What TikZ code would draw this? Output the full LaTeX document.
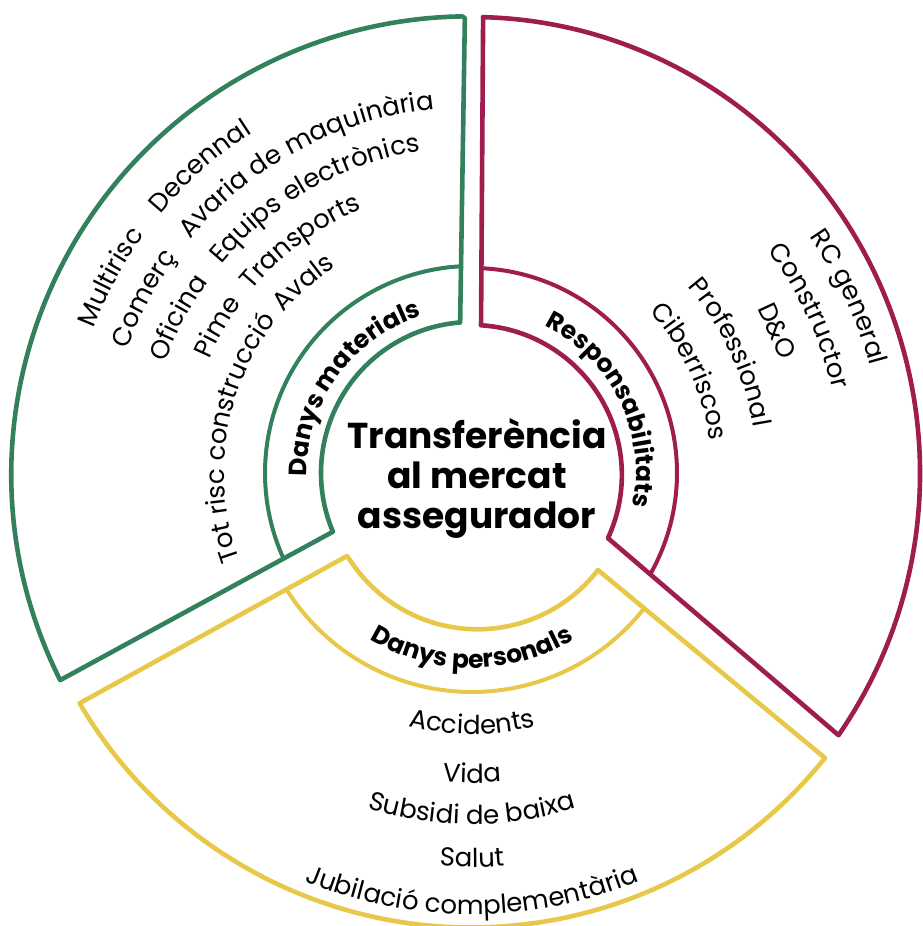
\documentclass[tikz,border=0pt]{standalone}
\usepackage{fontspec}
\setmainfont{Poppins}
\usetikzlibrary{decorations.text}

\definecolor{matgreen}{RGB}{50,128,92}
\definecolor{respred}{RGB}{158,28,78}
\definecolor{persyellow}{RGB}{232,200,72}
\newcommand{\itemfont}{\fontsize{26}{30}\selectfont}
\newcommand{\ringfont}{\fontsize{25}{30}\selectfont\bfseries}
\newcommand{\corefont}{\fontsize{36}{40}\selectfont\bfseries}

\begin{document}
\begin{tikzpicture}[x=1pt, y=1pt,
    sector/.style={line width=4.6pt, line join=round},
    band/.style={line width=4pt, line cap=round},
    itemleft/.style={decorate, decoration={text along path, text={|\itemfont|#1}, text align=left}},
    itemmid/.style={decorate, decoration={text along path, text={|\itemfont|#1}, text align=center}},
    ringtext/.style={decorate, decoration={text along path, text={|\ringfont|#1}, text align=center}}]

\useasboundingbox (-472,-453) rectangle (451,473);

% sectors
\draw[sector, matgreen] (90.9:455) -- (94.5:151) arc[start angle=94.5, end angle=202.9, radius=151pt]
  -- (206.7:461) arc[start angle=206.7, end angle=90.9, radius=458pt] -- cycle;
\draw[sector, respred] (88.6:456) -- (86.5:148) arc[start angle=86.5, end angle=-24.9, radius=150pt]
  -- (-35.1:448 and 456) arc[start angle=-35.1, end angle=88.6, x radius=448pt, y radius=456pt] -- cycle;
\draw[sector, persyellow] (213.6:150) -- (210.4:455) arc[start angle=210.4, end angle=321.2, radius=454pt]
  -- (322.4:159) arc[start angle=322.4, end angle=213.6, radius=152pt] -- cycle;

\draw[band, matgreen] (93.0:207) arc[start angle=93.0, end angle=204.4, radius=207pt];
\draw[band, respred] (87.4:205) arc[start angle=87.4, end angle=-28.8, radius=205pt];
\draw[band, persyellow] (212.1:219) arc[start angle=212.1, end angle=321.9, radius=219pt];

\node[font=\corefont, align=center, inner sep=0pt] (core) at (5,-5) {Transferència\\al mercat\\assegurador};

\path[ringtext=Danys materials] (225:165) arc[start angle=225, end angle=64, radius=165pt];
\path[ringtext=Responsabilitats] (96:164) arc[start angle=96, end angle=-44, radius=164pt];
\path[ringtext=Danys personals] (200:195) arc[start angle=200, end angle=340, radius=195pt];

% danys materials
\path[itemleft=Multirisc] (159.1:405) arc[start angle=159.1, end angle=120, radius=405pt];
\path[itemleft=Comerç] (160.3:366) arc[start angle=160.3, end angle=120, radius=366pt];
\path[itemleft=Oficina] (160.2:326) arc[start angle=160.2, end angle=120, radius=326pt];
\path[itemleft=Pime] (156.6:286) arc[start angle=156.6, end angle=120, radius=286pt];
\path[itemleft=Tot risc construcció] (200.4:248) arc[start angle=200.4, end angle=120, radius=248pt];
\path[itemleft=Decennal] (140.3:405) arc[start angle=140.3, end angle=60, radius=405pt];
\path[itemleft=Avaria de maquinària] (140.3:366) arc[start angle=140.3, end angle=60, radius=366pt];
\path[itemleft=Equips electrònics] (140.3:326) arc[start angle=140.3, end angle=60, radius=326pt];
\path[itemleft=Transports] (140.3:286) arc[start angle=140.3, end angle=60, radius=286pt];
\path[itemleft=Avals] (139.6:247) arc[start angle=139.6, end angle=60, radius=247pt];

% responsabilitats
\path[itemmid=RC general] (70:412) arc[start angle=70, end angle=-20, radius=412pt];
\path[itemmid=Constructor] (70:370) arc[start angle=70, end angle=-20, radius=370pt];
\node[font=\itemfont, rotate=-65, anchor=base, inner sep=0pt] (dno) at (25:328) {D\&O};
\path[itemmid=Professional] (70:285) arc[start angle=70, end angle=-20, radius=285pt];
\path[itemmid=Ciberriscos] (70:240) arc[start angle=70, end angle=-20, radius=240pt];

% danys personals
\path[itemmid=Accidents] (200:261) arc[start angle=200, end angle=340, radius=261pt];
\path[itemmid=Vida] (200:310) arc[start angle=200, end angle=340, radius=310pt];
\path[itemmid=Subsidi de baixa] (200:351) arc[start angle=200, end angle=340, radius=351pt];
\path[itemmid=Salut] (200:394) arc[start angle=200, end angle=340, radius=394pt];
\path[itemmid=Jubilació complementària] (200:441) arc[start angle=200, end angle=340, radius=441pt];
\end{tikzpicture}
\end{document}
